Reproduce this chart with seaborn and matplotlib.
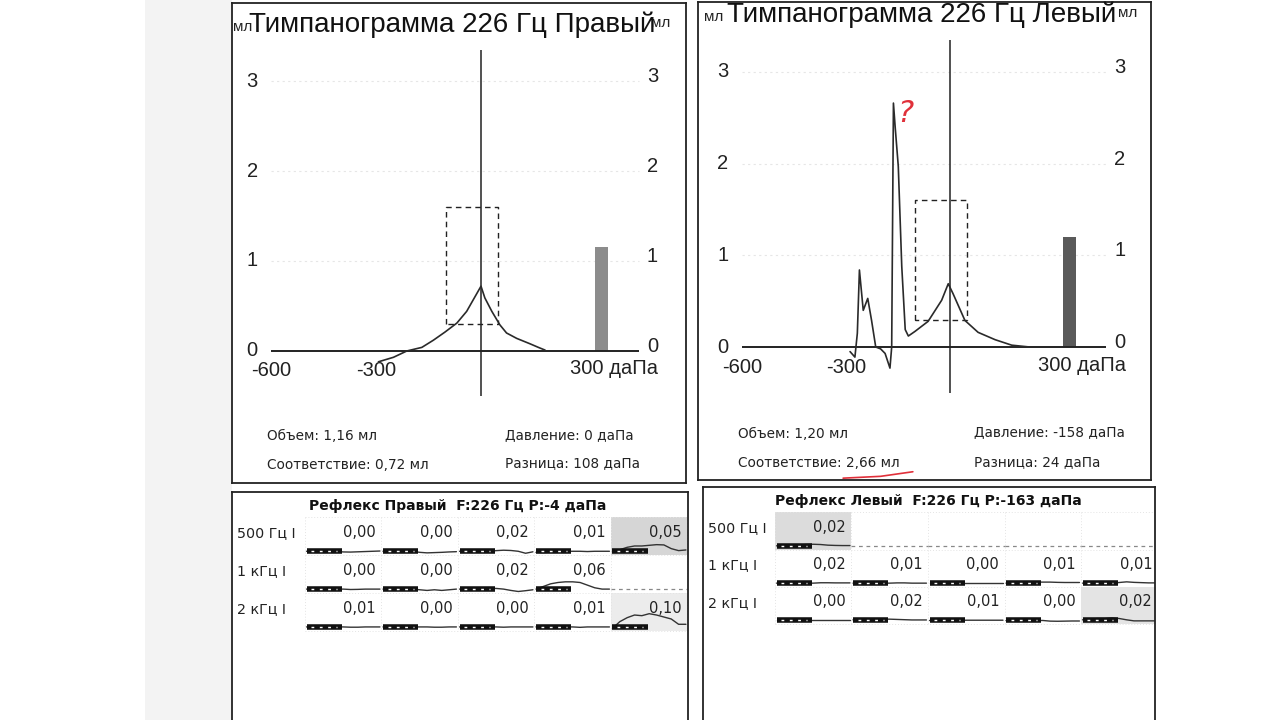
import matplotlib
matplotlib.use("Agg")
import matplotlib.pyplot as plt
from matplotlib.patches import Rectangle
import seaborn as sns
import numpy as np

sns.set_style("white")
plt.rcParams['font.family'] = ['Liberation Sans', 'DejaVu Sans']

# ---- tympanogram data (pressure daPa, compliance ml) ----
right_p = [-293, -250, -212, -169, -136, -103, -69, -41, -22, 0, 11, 31, 54, 73, 102, 140, 164, 183]
right_ml = [-0.12, -0.07, 0.0, 0.04, 0.12, 0.21, 0.31, 0.44, 0.57, 0.72, 0.59, 0.44, 0.29, 0.20, 0.14, 0.08, 0.04, 0.01]

left_p = [-288, -274, -267, -261, -250, -237, -226, -214, -200, -187, -173, -168, -163, -158, -149,
          -139, -129, -120, -101, -63, -24, -5, 9, 43, 81, 130, 178, 230]
left_ml = [-0.05, -0.11, 0.15, 0.84, 0.40, 0.53, 0.29, 0.0, -0.02, -0.07, -0.23, 0.0, 2.66, 2.40, 1.97,
           0.88, 0.19, 0.12, 0.17, 0.28, 0.51, 0.69, 0.58, 0.29, 0.16, 0.08, 0.02, 0.0]

volume = {'right': 1.16, 'left': 1.20}
norm_box = (-100, 50, 0.3, 1.6)   # pressure min/max, compliance min/max
y_ticks = [0, 1, 2, 3]

titles = {'right': 'Тимпанограмма 226 Гц Правый', 'left': 'Тимпанограмма 226 Гц Левый'}
info = {
    'right': ['Объем: 1,16 мл', 'Соответствие: 0,72 мл', 'Давление: 0 даПа', 'Разница: 108 даПа'],
    'left': ['Объем: 1,20 мл', 'Соответствие: 2,66 мл', 'Давление: -158 даПа', 'Разница: 24 даПа'],
}

# ---- reflex tables ----
row_labels = ['500 Гц I', '1 кГц I', '2 кГц I']
reflex_title = {'right': 'Рефлекс Правый  F:226 Гц P:-4 даПа', 'left': 'Рефлекс Левый  F:226 Гц P:-163 даПа'}
right_values = [['0,00', '0,00', '0,02', '0,01', '0,05'],
                ['0,00', '0,00', '0,02', '0,06', None],
                ['0,01', '0,00', '0,00', '0,01', '0,10']]
left_values = [['0,02', None, None, None, None],
               ['0,02', '0,01', '0,00', '0,01', '0,01'],
               ['0,00', '0,02', '0,01', '0,00', '0,02']]
right_shaded = [(0, 4, '#d6d6d6'), (2, 4, '#ececec')]
left_shaded = [(0, 0, '#dcdcdc'), (2, 4, '#e4e4e4')]

# reflex traces, amplitude in ml over 11 samples per cell
right_traces = [
    [[0, 0, 0, 0, 0, -0.005, -0.006, -0.004, -0.002, 0, 0.002],
     [0, 0, 0, 0, 0, -0.008, -0.012, -0.01, -0.008, -0.005, -0.003],
     [0, 0, 0, 0, 0, 0.005, 0.008, 0.006, 0.0, -0.015, -0.004],
     [-0.008, -0.01, -0.006, 0, 0, 0, 0, -0.002, 0, 0, 0],
     [0, 0.012, 0.03, 0.04, 0.04, 0.045, 0.05, 0.048, 0.02, 0.005, 0.01]],
    [[0, 0, 0, 0, 0, 0, -0.003, -0.002, 0, 0, 0],
     [0, 0, 0, 0, 0, -0.005, -0.01, -0.005, -0.01, -0.005, 0],
     [0, 0, 0, 0.004, 0.005, 0.005, 0, -0.01, -0.018, -0.012, -0.005],
     [0, 0.02, 0.04, 0.05, 0.055, 0.055, 0.05, 0.03, 0.01, 0, 0],
     None],
    [[0, 0, 0, 0, 0, 0, -0.002, -0.002, 0, 0, 0],
     [0, 0, 0, 0, 0, 0, 0, -0.002, -0.002, 0, 0],
     [0, 0, 0, 0, 0, 0, -0.002, 0, 0, 0, 0],
     [0, 0, 0, 0, 0, 0, -0.003, 0, 0, 0, 0],
     [-0.01, 0.04, 0.07, 0.09, 0.085, 0.1, 0.09, 0.075, 0.06, 0.02, 0.02]],
]
left_traces = [
    [[0, 0, 0, 0.005, 0.01, 0.012, 0.01, 0.005, 0.003, 0.002, 0.002], None, None, None, None],
    [[0, 0, 0, 0, 0, 0, 0.003, 0.003, 0.002, 0.002, 0.002],
     [0, 0, 0, 0, 0, 0, 0.002, 0.002, 0, 0, 0],
     [0, 0, 0, 0, 0, 0, 0, 0, 0, 0, 0],
     [0, 0, 0, 0.005, 0.008, 0.008, 0.008, 0.006, 0.005, 0.005, 0.005],
     [0, 0, 0, 0, 0, 0.005, 0.01, 0.006, 0.004, 0.002, 0.002]],
    [[0, 0, 0, 0, 0, 0, 0, 0, 0, 0, 0],
     [0.005, 0.01, 0.01, 0.01, 0.01, 0.01, 0.008, 0.006, 0.004, 0.004, 0.004],
     [0, 0, 0, 0, 0, 0.002, 0.002, 0.002, 0.002, 0.002, 0.002],
     [0, 0, 0, 0, 0, 0, -0.005, -0.006, -0.005, -0.004, -0.004],
     [0.005, 0.01, 0.015, 0.015, 0.02, 0.015, 0.005, -0.003, -0.003, -0.003, -0.003]],
]
trace_t = np.linspace(0, 1, 11)

W, H = 1280, 720
fig = plt.figure(figsize=(12.8, 7.2), dpi=100)
fig.patch.set_facecolor('white')
# grey scanner margin at the left edge of the page
fig.patches.append(Rectangle((145 / W, 0), 87 / W, 1, transform=fig.transFigure,
                             color='#f3f3f3', lw=0, zorder=-5))


def px_axes(x0, y0, x1, y1):
    return fig.add_axes([x0 / W, 1 - y1 / H, (x1 - x0) / W, (y1 - y0) / H])


def tympanogram(ax, side, p, ml, xlim, ylim, bar_color):
    ax.set_xlim(*xlim)
    ax.set_ylim(*ylim)
    ax.set_xticks([])
    ax.set_yticks([])
    for s in ax.spines.values():
        s.set_color('#222222')
        s.set_linewidth(1.3)
    # faint grid
    for yv in y_ticks[1:]:
        ax.hlines(yv, -600, 450, color='#e6e6e6', lw=0.8, ls=(0, (2, 3)), zorder=0)
    ax.hlines(0, -600, 450, color='#222222', lw=1.4)
    ax.vlines(0, -0.5, 3.35, color='#222222', lw=1.1)
    pmin, pmax, cmin, cmax = norm_box
    ax.plot([pmin, pmin, pmax, pmax, pmin], [cmin, cmax, cmax, cmin, cmin],
            color='#222222', lw=1.0, ls=(0, (4, 3)))
    ax.bar([345], [volume[side]], width=37, color=bar_color, edgecolor='none')
    sns.lineplot(x=p, y=ml, ax=ax, color='#2a2a2a', lw=1.2, sort=False, estimator=None)
    for yv in y_ticks:
        ax.text(-654, yv, str(yv), ha='center', va='center', fontsize=14.5, color='#222222')
        ax.text(490, yv + 0.05, str(yv), ha='center', va='center', fontsize=14.5, color='#222222')
    for xv in [-600, -300]:
        ax.text(xv, -0.22, str(xv), ha='center', va='center', fontsize=14.5, color='#222222')
    ax.text(254, -0.2, '300 даПа', ha='left', va='center', fontsize=14.5, color='#222222')
    # unit labels sit under the ends of the title, as on the printout
    ax.text(-682, 3.6, 'мл', ha='center', va='center', fontsize=11, color='#222222')
    ax.text(512, 3.64, 'мл', ha='center', va='center', fontsize=11, color='#222222')
    ax.text(-82, 3.62, titles[side], ha='center', va='center', fontsize=20, color='#111111')
    t = info[side]
    kw = dict(ha='left', va='center', fontsize=9.8, family='DejaVu Sans', color='#222222')
    ax.text(-611, -0.95, t[0], **kw)
    ax.text(-611, -1.27, t[1], **kw)
    ax.text(69, -0.93, t[2], **kw)
    ax.text(69, -1.25, t[3], **kw)


ax_r = px_axes(232, 3, 686, 483)
tympanogram(ax_r, 'right', right_p, right_ml, (-711.4, 585.7), (-1.467, 3.867), '#8c8c8c')

ax_l = px_axes(698, 2, 1151, 480)
tympanogram(ax_l, 'left', left_p, left_ml, (-726.2, 579.3), (-1.450, 3.762), '#5a5a5a')
# handwritten marks on the left tympanogram
ax_l.text(-128, 2.55, '?', ha='center', va='center', fontsize=22, color='#e0303a',
          family='DejaVu Sans', style='italic')
ax_l.plot([-308, -200, -107], [-1.43, -1.41, -1.36], color='#e0303a', lw=1.2)


def reflex_table(ax, side, values, traces, shaded, xlim, ylim):
    ax.set_xlim(*xlim)
    ax.set_ylim(*ylim)
    ax.set_xticks([])
    ax.set_yticks([])
    for s in ax.spines.values():
        s.set_color('#222222')
        s.set_linewidth(1.3)
    ax.spines['bottom'].set_visible(False)
    ax.text(2.0, -0.3, reflex_title[side], ha='center', va='center', fontsize=10,
            fontweight='bold', family='DejaVu Sans', color='#111111')
    for (r, c, col) in shaded:
        ax.fill_between([c, c + 1], r, r + 1, color=col, lw=0, zorder=0)
    # faint cell separators
    for c in range(6):
        ax.vlines(c, 0, 3, color='#e4e4e4', lw=0.7, ls=(0, (1, 2)), zorder=0)
    for r in range(4):
        ax.hlines(r, 0, 5, color='#e4e4e4', lw=0.7, ls=(0, (1, 2)), zorder=0)
    for r, lab in enumerate(row_labels):
        ax.text(xlim[0] + 0.07, r + 0.42, lab, ha='left', va='center', fontsize=10.3,
                family='DejaVu Sans', color='#222222')
        for c in range(5):
            base = r + 0.9
            tr = traces[r][c]
            if tr is None:
                ax.plot([c, c + 1], [base, base], color='#888888', lw=0.9, ls=(0, (3, 3)))
                continue
            ax.text(c + 0.93, r + 0.4, values[r][c], ha='right', va='center', fontsize=10.5,
                    family='DejaVu Sans', color='#222222')
            sns.lineplot(x=c + 0.02 + 0.96 * trace_t, y=base - 3.5 * np.array(tr), ax=ax,
                         color='#333333', lw=1.0, sort=False, estimator=None)
            ax.plot([c + 0.02, c + 0.48], [base, base], color='#111111', lw=4, solid_capstyle='butt')
            ax.plot([c + 0.08, c + 0.42], [base, base], color='white', lw=1.0, ls=(0, (2, 4)))


ax_rt = px_axes(232, 492, 688, 722)
reflex_table(ax_rt, 'right', right_values, right_traces, right_shaded, (-0.954, 5.007), (5.413, -0.667))

ax_lt = px_axes(703, 487, 1155, 722)
reflex_table(ax_lt, 'left', left_values, left_traces, left_shaded, (-0.941, 4.967), (5.62, -0.676))

fig.savefig('out.png', dpi=100, facecolor='white')
